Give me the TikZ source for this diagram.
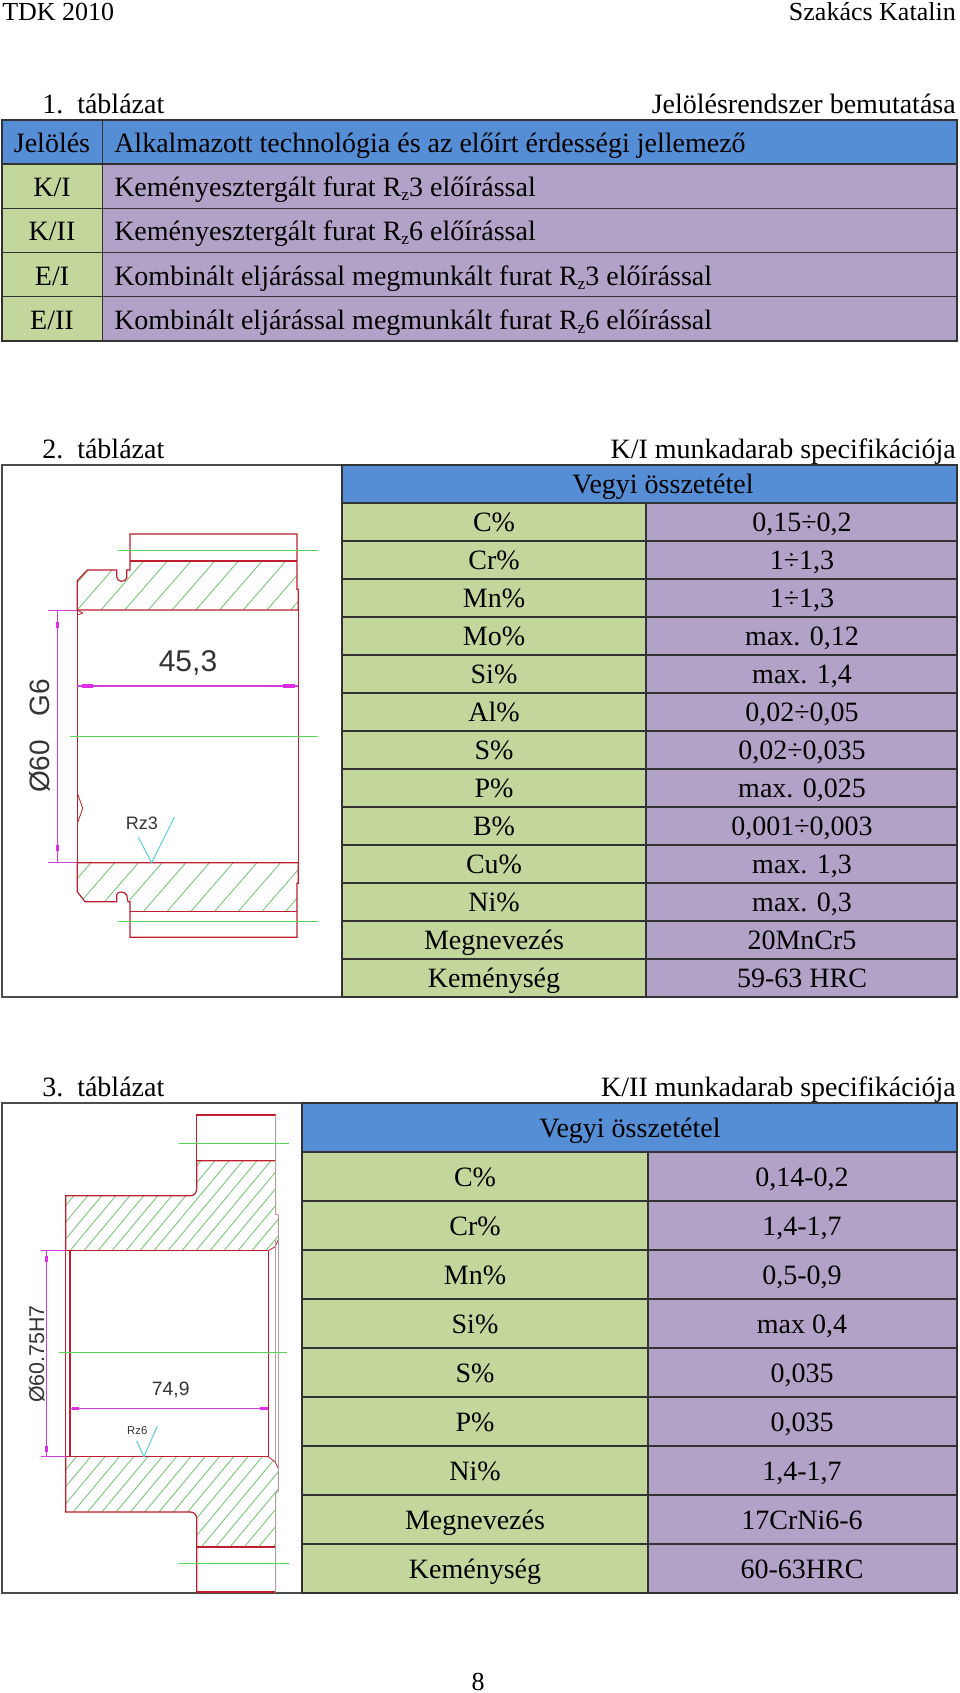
\documentclass[tikz,border=0pt]{standalone}
\usepackage{fontspec}
\setmainfont{Liberation Serif}
\newfontfamily\cadfont{Liberation Sans}
\newcommand{\Rz}{R\raisebox{-0.35ex}{\fontsize{13pt}{13pt}\selectfont z}}
\tikzset{
  bluecell/.style={draw=black!80, line width=0.9pt, fill=headblue},
  greencell/.style={draw=black!80, line width=0.9pt, fill=cellgreen},
  purplecell/.style={draw=black!80, line width=0.9pt, fill=cellpurple},
  imgcell/.style={draw=black!70, line width=0.9pt, fill=white},
  celltext/.style={anchor=base, inner sep=0pt, font=\fontsize{21pt}{23pt}\selectfont},
  lefttext/.style={celltext, anchor=base west},
  pagetext/.style={anchor=base, inner sep=0pt, font=\fontsize{19.5pt}{21pt}\selectfont},
  cadtext/.style={inner sep=0pt, text=black!80, font=\cadfont},
  partline/.style={draw=partred, line width=0.9pt},
  paleline/.style={draw=partpale, line width=0.7pt},
  axisline/.style={draw=axisgreen, line width=0.8pt},
  hatchline/.style={draw=hatchgreen, line width=0.6pt},
  dimline/.style={draw=dimpink, line width=0.7pt},
  dimhead/.style={draw=dimpink!70!magenta, line width=2.4pt},
  roughmark/.style={draw=roughcyan, line width=0.8pt}
}
\definecolor{headblue}{HTML}{558ED5}
\definecolor{cellgreen}{HTML}{C3D69B}
\definecolor{cellpurple}{HTML}{B2A2C7}
\definecolor{partred}{HTML}{BE1E2D}
\definecolor{partpale}{HTML}{B89A9A}
\definecolor{axisgreen}{HTML}{55D855}
\definecolor{hatchgreen}{HTML}{70C070}
\definecolor{dimpink}{HTML}{D040D8}
\definecolor{roughcyan}{HTML}{60D0D8}
\begin{document}
\begin{tikzpicture}[x=0.75pt, y=-0.75pt]
    \useasboundingbox (0,0) rectangle (960,1693);

    % Fejlec es lablec
    \node[pagetext, anchor=base west] (fejbal) at (2,20) {TDK 2010};
    \node[pagetext, anchor=base east] (fejjobb) at (956,20) {Szakács Katalin};
    \node[pagetext] (oldal) at (478,1690) {8};

    % 1. tablazat
    \node[lefttext] (cim1) at (42,113) {1.\ \ táblázat};
    \node[celltext, anchor=base east] (alcim1) at (956,113) {Jelölésrendszer bemutatása};
    \draw[bluecell] (2,120) rectangle (102.5,164);
    \draw[bluecell] (102.5,120) rectangle (957,164);
    \node[celltext] (fej1a) at (52,152) {Jelölés};
    \node[lefttext] (fej1b) at (114,152) {Alkalmazott technológia és az előírt érdességi jellemező};
    \foreach \i in {0,...,3} {
      \draw[greencell] (2,{164+44.25*\i}) rectangle +(100.5,44.25);
      \draw[purplecell] (102.5,{164+44.25*\i}) rectangle +(854.5,44.25);
    }
    \node[celltext] (jel1) at (52,196) {K/I};
    \node[celltext] (jel2) at (52,240) {K/II};
    \node[celltext] (jel3) at (52,285) {E/I};
    \node[celltext] (jel4) at (52,329) {E/II};
    \node[lefttext] (tech1) at (114,196) {Keményesztergált furat \Rz3 előírással};
    \node[lefttext] (tech2) at (114,240) {Keményesztergált furat \Rz6 előírással};
    \node[lefttext] (tech3) at (114,285) {Kombinált eljárással megmunkált furat \Rz3 előírással};
    \node[lefttext] (tech4) at (114,329) {Kombinált eljárással megmunkált furat \Rz6 előírással};

    % 2. tablazat
    \node[lefttext] (cim2) at (42,458) {2.\ \ táblázat};
    \node[celltext, anchor=base east] (alcim2) at (956,458) {K/I munkadarab specifikációja};
    \draw[imgcell] (2,465) rectangle (342,997);
    \draw[bluecell] (342,465) rectangle (957,503);
    \node[celltext] (vegyi2) at (663,493) {Vegyi összetétel};
    \foreach \elem/\ertek [count=\i from 0] in {C\%/{0,15÷0,2}, Cr\%/{1÷1,3}, Mn\%/{1÷1,3},
        Mo\%/{max. 0,12}, Si\%/{max. 1,4}, Al\%/{0,02÷0,05}, S\%/{0,02÷0,035}, P\%/{max. 0,025},
        B\%/{0,001÷0,003}, Cu\%/{max. 1,3}, Ni\%/{max. 0,3}, Megnevezés/20MnCr5, Keménység/59-63 HRC} {
      \draw[greencell] (342,{503+38*\i}) rectangle +(304,38);
      \draw[purplecell] (646,{503+38*\i}) rectangle +(311,38);
      \node[celltext] (elem\i) at (494,{531+38*\i}) {\elem};
      \node[celltext] (ertek\i) at (802,{531+38*\i}) {\ertek};
    }

    % K/I alkatresz, felso resz
    \begin{scope}
      \clip (77.3,610) -- (77.3,580.7) -- (87.3,570) -- (116.7,570) -- (116.7,576.7) -- (120,580.7)
        -- (126,580.7) -- (126.7,570) -- (130,570) -- (130,561) -- (297,561) -- (297,589.3)
        -- (298.3,589.3) -- (298.3,610) -- cycle;
      \foreach \i in {-1,...,9}
        \draw[hatchline] ({77.3+\i*23.7},610) -- +(50,-57.5);
    \end{scope}
    \draw[partline] (77.3,610) -- (77.3,580.7) -- (87.3,570) -- (116.7,570) -- (116.7,576.7)
      .. controls (117,582) and (125,583) .. (126.7,578) -- (126.7,570) -- (130,570) -- (130,534)
      -- (297,534) -- (297,589.3) -- (298.3,589.3) -- (298.3,610) -- cycle;
    \draw[partline] (130,561) -- (297,561);
    \draw[partline, line width=0.6pt] (77.3,610) -- (82.7,613) -- (77.3,615);

    % K/I alkatresz, also resz
    \begin{scope}
      \clip (77.3,862.7) -- (77.3,891.7) -- (85,901.7) -- (116.7,901.7) -- (116.7,892.3)
        -- (126,892.3) -- (130,901.7) -- (130,911.7) -- (297,911.7) -- (297,883.3)
        -- (298.3,883.3) -- (298.3,862.7) -- cycle;
      \foreach \i in {-1,...,11}
        \draw[hatchline] ({91+\i*23.7},862.7) -- +(-50,57.5);
    \end{scope}
    \draw[partline] (77.3,862.7) -- (77.3,891.7) -- (85,901.7) -- (116.7,901.7) -- (116.7,895)
      .. controls (117,891) and (125,891) .. (126.7,895) -- (128,901.7) -- (130,901.7)
      -- (130,937.3) -- (297,937.3) -- (297,883.3) -- (298.3,883.3) -- (298.3,862.7) -- cycle;
    \draw[partline] (130,911.7) -- (297,911.7);
    \draw[partline] (77.3,610) -- (77.3,862.7);
    \draw[partline, line width=1.1pt] (298.3,610) -- (298.3,862.7);
    \draw[partline, line width=0.6pt] (77.3,793) -- (82.7,808) -- (77.3,824);

    % Kozepvonalak
    \draw[axisline] (118,550.7) -- (318,550.7);
    \draw[axisline] (70,736.3) -- (318,736.3);
    \draw[axisline] (118,921.7) -- (318,921.7);

    % Meretek
    \draw[dimline] (48.3,610) -- (77.3,610);
    \draw[dimline] (48.3,862.7) -- (77.3,862.7);
    \draw[dimline] (57.7,610) -- (57.7,862.7);
    \draw[dimhead] (57.7,622) -- (57.7,628);
    \draw[dimhead] (57.7,845) -- (57.7,851);
    \draw[dimline, line width=1.2pt] (77.3,686) -- (298.3,686);
    \draw[dimhead] (82,686) -- (93,686);
    \draw[dimhead] (283,686) -- (295,686);
    \node[cadtext, font=\cadfont\fontsize{22.5pt}{24pt}\selectfont] (hossz1) at (188,663) {45,3};
    \node[cadtext, rotate=90, font=\cadfont\fontsize{21pt}{24pt}\selectfont] (atmero1) at (40,736) {Ø60\ \ \ G6};
    \node[cadtext, font=\cadfont\fontsize{13.5pt}{15pt}\selectfont] (rz3) at (142,823) {Rz3};
    \draw[roughmark] (138.3,837.3) -- (151.7,862.7) -- (174.3,817.3);

    % 3. tablazat
    \node[lefttext] (cim3) at (42,1096) {3.\ \ táblázat};
    \node[celltext, anchor=base east] (alcim3) at (956,1096) {K/II munkadarab specifikációja};
    \draw[imgcell] (2,1103) rectangle (302,1593);
    \draw[bluecell] (302,1103) rectangle (957,1152);
    \node[celltext] (vegyi3) at (630,1137) {Vegyi összetétel};
    \foreach \elem/\ertek [count=\i from 0] in {C\%/0{,}14-0{,}2, Cr\%/1{,}4-1{,}7, Mn\%/0{,}5-0{,}9,
        Si\%/max 0{,}4, S\%/0{,}035, P\%/0{,}035, Ni\%/1{,}4-1{,}7, Megnevezés/17CrNi6-6, Keménység/60-63HRC} {
      \draw[greencell] (302,{1152+49*\i}) rectangle +(346,49);
      \draw[purplecell] (648,{1152+49*\i}) rectangle +(309,49);
      \node[celltext] (anyag\i) at (475,{1186+49*\i}) {\elem};
      \node[celltext] (adat\i) at (802,{1186+49*\i}) {\ertek};
    }

    % K/II alkatresz, felso resz
    \begin{scope}
      \clip (65.7,1250.7) -- (65.7,1195.7) -- (190.7,1195.7) -- (196.7,1188.3) -- (196.7,1160.7)
        -- (275.7,1160.7) -- (275.7,1214.3) -- (278.3,1215) -- (278.3,1235) -- (275,1246.7)
        -- (268.3,1250.7) -- cycle;
      \foreach \i in {-4,...,16}
        \draw[hatchline] ({70+\i*14},1250.7) -- +(75,-90);
    \end{scope}
    \draw[partline] (275.7,1160.7) -- (196.7,1160.7) -- (196.7,1188.3)
      .. controls (196.7,1193) and (194,1195.7) .. (190.7,1195.7) -- (65.7,1195.7) -- (65.7,1250.7);
    \draw[partline] (196.7,1160.7) -- (196.7,1115) -- (275.7,1115);
    \draw[partline] (65.7,1250.7) -- (268.3,1250.7);
    \draw[partline, line width=0.6pt] (268.3,1250.7) -- (275,1246.7) -- (278.3,1240);
    \draw[paleline] (275.7,1115) -- (275.7,1214.3) -- (278.3,1215) -- (278.3,1235);

    % K/II alkatresz, also resz
    \begin{scope}
      \clip (65.7,1456.7) -- (65.7,1512) -- (190.7,1512) -- (196.7,1518.7) -- (196.7,1547)
        -- (275.7,1547) -- (275.7,1492.7) -- (278.3,1491.7) -- (278.3,1468.3) -- (275,1461.7)
        -- (268.3,1456.7) -- cycle;
      \foreach \i in {-2,...,19}
        \draw[hatchline] ({90.7+\i*14.3},1456.7) -- +(-75,90);
    \end{scope}
    \draw[partline] (65.7,1456.7) -- (65.7,1512) -- (190.7,1512)
      .. controls (194,1512) and (196.7,1515) .. (196.7,1518.7) -- (196.7,1592.7);
    \draw[partline] (65.7,1456.7) -- (268.3,1456.7);
    \draw[partline] (196.7,1547) -- (275.7,1547);
    \draw[partline, line width=1.4pt] (196.7,1592) -- (275.7,1592);
    \draw[partline, line width=0.6pt] (268.3,1456.7) -- (275,1461.7) -- (278.3,1468.3);
    \draw[paleline] (275.7,1592.7) -- (275.7,1492.7) -- (278.3,1491.7) -- (278.3,1468.3);
    \draw[partline] (65.7,1250.7) -- (65.7,1456.7);
    \draw[partline, line width=1pt] (70,1250.7) -- (70,1456.7);
    \draw[partline] (268.3,1250.7) -- (268.3,1456.7);
    \draw[paleline] (275.7,1240) -- (275.7,1461.7);
    \draw[paleline] (278.3,1235) -- (278.3,1468.3);

    % Kozepvonalak
    \draw[axisline] (179,1143.3) -- (289.3,1143.3);
    \draw[axisline] (58.7,1352.7) -- (287.3,1352.7);
    \draw[axisline] (179,1563.7) -- (289.3,1563.7);

    % Meretek
    \draw[dimline] (41.3,1250.7) -- (65.7,1250.7);
    \draw[dimline] (41.3,1456.7) -- (65.7,1456.7);
    \draw[dimline] (46.3,1250.7) -- (46.3,1456.7);
    \draw[dimhead, line width=1.8pt] (46.3,1256) -- (46.3,1262);
    \draw[dimhead, line width=1.8pt] (46.3,1446) -- (46.3,1452);
    \draw[dimline] (70,1408.3) -- (268.3,1408.3);
    \draw[dimhead, line width=2pt] (72,1408.3) -- (79.3,1408.3);
    \draw[dimhead, line width=2pt] (260,1408.3) -- (267.7,1408.3);
    \node[cadtext, font=\cadfont\fontsize{14.5pt}{16pt}\selectfont] (hossz2) at (170.7,1390) {74,9};
    \node[cadtext, rotate=90, font=\cadfont\fontsize{16pt}{17pt}\selectfont] (atmero2) at (36.7,1354) {Ø60.75H7};
    \node[cadtext, font=\cadfont\fontsize{8.5pt}{10pt}\selectfont] (rz6) at (137.3,1430.7) {Rz6};
    \draw[roughmark] (136.7,1441) -- (144,1456.7) -- (157.3,1426);

\end{tikzpicture}
\end{document}
